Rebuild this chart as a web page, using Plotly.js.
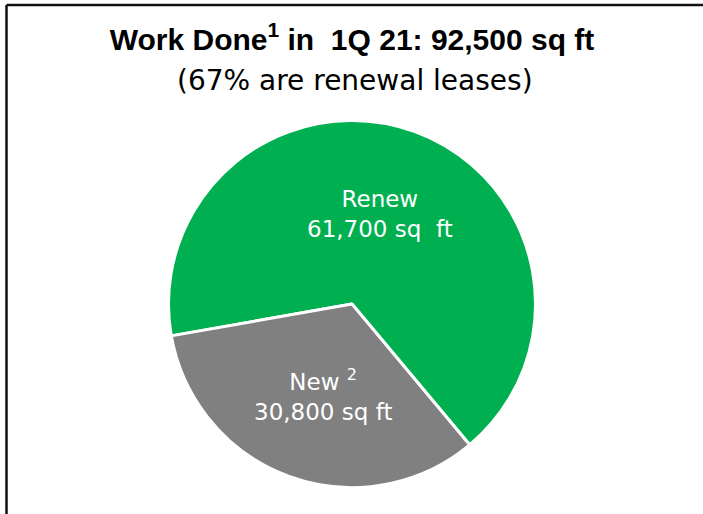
<!DOCTYPE html>
<html>
<head>
<meta charset="utf-8">
<script src="https://cdn.plot.ly/plotly-3.0.1.min.js"></script>
<style>html,body{margin:0;padding:0;background:#fff;}#chart{width:703px;height:514px;}</style>
</head>
<body>
<div id="chart"></div>
<script>
const categories = ["Renew", "New"];
const values = [61700, 30800];
const labelTexts = ["Renew<br>61,700 sq  ft", "New <sup>2</sup><br>30,800 sq ft"];
const colors = ["#00B050", "#808080"];
const titleText = "<b>Work Done<sup>1</sup> in  1Q 21: 92,500 sq ft</b>";
const subtitleText = "(67% are renewal leases)";

const W = 703, H = 514;
const labelFont = {family: "'Century Gothic', 'DejaVu Sans', sans-serif", size: 23, color: "#ffffff"};
const labelPos = [[380, 214], [323, 395]];

const trace = {
  type: "pie",
  labels: categories,
  values: values,
  sort: false,
  direction: "clockwise",
  rotation: -100,
  marker: {colors: colors, line: {color: "#ffffff", width: 3}},
  textinfo: "none",
  hoverinfo: "label+value",
  showlegend: false,
  domain: {x: [168.5 / W, 535.5 / W], y: [1 - 487.5 / H, 1 - 120.5 / H]}
};

const annotations = categories.map((c, i) => ({
  text: labelTexts[i],
  x: labelPos[i][0] / W, y: 1 - labelPos[i][1] / H,
  xref: "paper", yref: "paper", xanchor: "center", yanchor: "middle",
  showarrow: false, font: labelFont, align: "center"
}));
annotations.push({
  text: subtitleText,
  x: 355 / W, y: 1 - 80 / H, xref: "paper", yref: "paper",
  xanchor: "center", yanchor: "middle", showarrow: false,
  font: {family: "'Century Gothic', 'DejaVu Sans', sans-serif", size: 28, color: "#000"}
});

const layout = {
  width: W, height: H,
  margin: {l: 0, r: 0, t: 0, b: 0},
  paper_bgcolor: "#ffffff",
  title: {
    text: titleText,
    x: 352 / W, xanchor: "center", y: 1 - 39 / H, yanchor: "middle",
    font: {family: "'Liberation Sans Narrow', 'Arial Narrow', 'Liberation Sans', sans-serif", size: 30, color: "#000"}
  },
  annotations: annotations,
  shapes: [
    {type: "line", xref: "paper", yref: "paper", x0: 6.5 / W, x1: 1, y0: 1 - 5 / H, y1: 1 - 5 / H, line: {color: "#111", width: 2.5}},
    {type: "line", xref: "paper", yref: "paper", x0: 6.5 / W, x1: 6.5 / W, y0: 0, y1: 1 - 5 / H, line: {color: "#111", width: 2.5}}
  ]
};

Plotly.newPlot("chart", [trace], layout, {displayModeBar: false, staticPlot: true});
</script>
</body>
</html>
